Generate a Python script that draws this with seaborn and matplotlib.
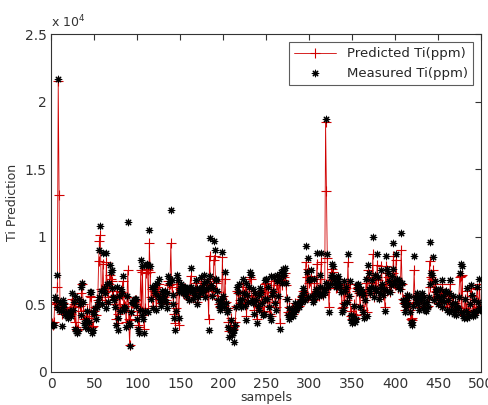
import numpy as np
import pandas as pd
import seaborn as sns
import matplotlib
matplotlib.use("Agg")
import matplotlib.pyplot as plt

# valeurs (ppm), echantillons 1..500
measured = [
    3500, 3450, 3500, 5500, 5300, 4800, 7200, 21700, 4600, 5200,
    4500, 3400, 5300, 4800, 5000, 4200, 4400, 4100, 4000, 4300,
    4200, 4500, 4100, 5800, 4600, 5200, 3200, 5600, 3000, 2900,
    3000, 5400, 5000, 4200, 6300, 6600, 5200, 3600, 3300, 3800,
    3700, 4500, 3200, 3700, 5900, 5900, 2900, 3100, 4400, 4300,
    4700, 3900, 4800, 5200, 9000, 5500, 10800, 6000, 5000, 8800,
    6200, 5800, 4700, 8800, 6500, 5200, 6600, 7900, 7400, 7500,
    6200, 5500, 5300, 4800, 3500, 6300, 3100, 4000, 5600, 4500,
    6100, 5800, 7100, 4600, 4800, 4700, 3300, 5600, 11100, 3600,
    1900, 3500, 4400, 5200, 5100, 5300, 5400, 4900, 5400, 3900,
    3200, 2900, 4600, 8300, 4200, 7800, 3900, 2900, 4500, 7900,
    8000, 7900, 4400, 10500, 7800, 5400, 6300, 4700, 6100, 6400,
    5800, 4600, 6600, 5600, 6900, 5400, 5200, 4900, 6000, 5600,
    5400, 6000, 5200, 4700, 5800, 7100, 6600, 6900, 12000, 6800,
    5700, 5000, 4000, 3100, 4500, 7200, 6800, 4000, 5900, 6200,
    6500, 6100, 5800, 6300, 5900, 6300, 5600, 6100, 6000, 5300,
    6200, 7700, 6300, 5900, 5400, 6000, 5700, 6800, 6200, 5000,
    5500, 6100, 5800, 7000, 6300, 5900, 6600, 7200, 5500, 6100,
    6700, 6200, 3100, 9900, 7100, 6400, 5600, 6200, 9700, 9000,
    6900, 6800, 6000, 5300, 4900, 4600, 5000, 5400, 8900, 5600,
    4800, 7400, 5100, 4400, 4600, 3300, 2600, 3100, 3800, 2700,
    2900, 2200, 3100, 3500, 4800, 6300, 5900, 6500, 5300, 5000,
    4800, 5400, 6900, 5800, 4900, 6600, 3800, 5700, 5200, 6300,
    7400, 7200, 5300, 5100, 6100, 4300, 5800, 5300, 3600, 4900,
    4600, 5700, 6200, 5900, 5100, 4200, 4300, 6800, 5400, 6900,
    5400, 6300, 4800, 4100, 3800, 7100, 5700, 6000, 7000, 5100,
    4600, 6700, 7200, 5600, 6900, 3200, 7400, 6600, 7600, 7100,
    7300, 7700, 6600, 5400, 4200, 4700, 3900, 4100, 4300, 4600,
    4100, 4400, 4700, 5100, 4600, 4900, 5000, 4800, 5200, 5500,
    5200, 5700, 6200, 5900, 5300, 9300, 7400, 5500, 8400, 6800,
    6900, 7500, 5600, 5200, 5400, 6900, 5800, 6100, 8800, 5900,
    5600, 6300, 7200, 8800, 5800, 5700, 6200, 5900, 18700, 6600,
    8700, 6300, 4400, 6500, 7000, 8000, 7200, 7800, 6900, 6600,
    6300, 6400, 6900, 7100, 6600, 6300, 5900, 4400, 4600, 6700,
    5000, 6000, 6300, 5200, 8700, 5600, 6700, 4200, 3800, 3600,
    4100, 4900, 3700, 3900, 6400, 6100, 6500, 5800, 4800, 6100,
    5900, 5700, 4400, 4000, 5300, 6900, 4100, 7900, 7300, 6100,
    5800, 6300, 6800, 10000, 5500, 6200, 7200, 6000, 8700, 7000,
    5400, 5800, 6300, 7500, 6500, 5700, 6100, 4500, 8600, 6000,
    7600, 7300, 6700, 5900, 6400, 7100, 7600, 9500, 6700, 6500,
    8700, 6900, 6300, 6800, 6500, 6100, 10300, 6600, 5300, 5000,
    4400, 4800, 5300, 5700, 5000, 5600, 4400, 3600, 3500, 3700,
    4900, 8600, 5500, 5200, 5800, 5400, 5000, 4600, 5600, 5300,
    5800, 4700, 5100, 5500, 4600, 4500, 5200, 4800, 5500, 9600,
    6500, 7300, 7200, 8500, 5300, 6700, 5900, 6100, 5600, 5000,
    5500, 6100, 5300, 4800, 6800, 5600, 5200, 5900, 6000, 4600,
    5300, 5800, 4400, 6800, 4600, 5000, 5600, 4300, 4600, 5100,
    4200, 4800, 4700, 5500, 7300, 8000, 4400, 7800, 4100, 4000,
    5400, 4500, 4000, 6200, 4300, 4100, 5000, 6400, 5700, 4400,
    4100, 5300, 4200, 4500, 6300, 5200, 4700, 6900, 4600, 4600,
]

predicted = [
    3600, 3500, 3700, 5200, 5000, 5100, 6300, 21500, 13100, 5000,
    4700, 4300, 5100, 4700, 4800, 4500, 4300, 4400, 4200, 4500,
    4400, 4600, 4300, 5400, 4800, 5000, 3700, 5300, 3300, 3100,
    3200, 5100, 4900, 4500, 5800, 6500, 5000, 3900, 3600, 4100,
    4000, 4600, 3500, 4000, 5600, 5500, 3300, 3400, 4500, 4500,
    4800, 4200, 4900, 5300, 8200, 9700, 10100, 6100, 5300, 8000,
    6100, 5900, 5000, 8100, 6300, 5500, 6500, 7200, 6900, 6700,
    6000, 5600, 5400, 5000, 3900, 6000, 3600, 4300, 5500, 4700,
    5900, 5700, 6700, 4800, 5000, 4900, 3700, 5500, 7500, 3900,
    2000, 3800, 4500, 5100, 5100, 5200, 5300, 5000, 5300, 4200,
    3500, 3300, 4700, 7500, 4500, 7400, 4200, 3200, 4700, 7300,
    7600, 7500, 4700, 9500, 7400, 5500, 6100, 4900, 6000, 6200,
    5700, 4900, 6300, 5600, 6500, 5500, 5300, 5100, 5900, 5600,
    5500, 5900, 5300, 5000, 5800, 6700, 6400, 6500, 9500, 6300,
    5700, 5100, 4300, 3600, 4700, 6800, 6500, 3500, 5800, 6100,
    6300, 6000, 5800, 6200, 5900, 6200, 5700, 6000, 5900, 5400,
    6100, 7100, 6200, 5900, 5500, 5900, 5700, 6600, 6100, 5200,
    5600, 6000, 5800, 6700, 6200, 5900, 6400, 6900, 5600, 6000,
    6500, 6100, 3900, 8600, 6900, 6300, 5700, 6100, 8300, 8600,
    6700, 6600, 5900, 5400, 5000, 4800, 5100, 5400, 8500, 5600,
    4900, 6900, 5200, 4600, 4700, 3700, 3000, 3400, 4000, 3100,
    3200, 3400, 3400, 3700, 4900, 6000, 5800, 6300, 5300, 5100,
    4900, 5400, 6600, 5700, 5000, 6300, 4100, 5600, 5200, 6100,
    7000, 6900, 5300, 5200, 6000, 4600, 5700, 5300, 3900, 5000,
    4800, 5600, 6000, 5800, 5200, 4400, 4500, 6500, 5400, 6600,
    5400, 6100, 4900, 4300, 4100, 6700, 5600, 5900, 6700, 5200,
    4800, 6400, 6800, 5600, 6600, 3600, 7000, 6400, 7200, 6800,
    7000, 7300, 6400, 5400, 4400, 4800, 4200, 4300, 4500, 4700,
    4300, 4500, 4800, 5100, 4700, 4900, 5000, 4900, 5200, 5400,
    5300, 5600, 6000, 5800, 5400, 8100, 7000, 5500, 7600, 6600,
    6700, 7100, 5600, 5300, 5400, 6600, 5800, 6000, 8000, 5900,
    5600, 6200, 6900, 8100, 5800, 5700, 6100, 5900, 18500, 13400,
    8400, 6200, 4800, 6400, 6800, 7600, 7000, 7400, 6700, 6500,
    6200, 6300, 6700, 6900, 6500, 6200, 5900, 4700, 4800, 6500,
    5100, 5900, 6200, 5300, 8100, 5600, 6500, 4500, 4100, 3900,
    4300, 5000, 4000, 4200, 6200, 6000, 6300, 5800, 4900, 6000,
    5800, 5700, 4600, 4300, 5300, 6600, 4400, 7500, 7000, 6000,
    5800, 6200, 6600, 8700, 5500, 6100, 6900, 6000, 7900, 6800,
    5500, 5800, 6200, 7800, 6400, 5700, 6000, 4800, 7800, 6000,
    7300, 7000, 6500, 5900, 6300, 6800, 7300, 8600, 6600, 6400,
    8300, 6700, 6200, 6600, 6400, 6100, 9000, 6500, 5400, 5100,
    4600, 4900, 5300, 5600, 5100, 5500, 4600, 3900, 3800, 4000,
    5000, 7500, 5500, 5200, 5700, 5400, 5100, 4800, 5500, 5300,
    5700, 4900, 5200, 5500, 4800, 4700, 5200, 4900, 5500, 8200,
    6300, 7000, 6900, 7500, 5400, 6500, 5900, 6000, 5600, 5100,
    5500, 6000, 5300, 4900, 6500, 5600, 5300, 5800, 5900, 4800,
    5300, 5700, 4600, 6500, 4800, 5100, 5500, 4500, 4800, 5100,
    4400, 4900, 4800, 5500, 7000, 7100, 4600, 7200, 4300, 4200,
    5400, 4700, 4300, 6000, 4500, 4300, 5000, 6200, 5600, 4600,
    4300, 5200, 4400, 4600, 6100, 5200, 4800, 6500, 4700, 4700,
]

samples = np.arange(1, len(measured) + 1)
df = pd.DataFrame({"sample": samples, "measured": measured, "predicted": predicted})

sns.set_style("white")
plt.rcParams["font.family"] = ["DejaVu Sans"]

fig = plt.figure(figsize=(4.89, 4.05), dpi=100)
ax = fig.add_axes([0.105, 0.082, 0.879, 0.834])

sns.lineplot(data=df, x="sample", y="predicted", ax=ax, color="#d00000", linewidth=0.6,
             marker="+", markersize=7, markeredgecolor="#d00000", markeredgewidth=0.8,
             label="Predicted Ti(ppm)")
sns.scatterplot(data=df, x="sample", y="measured", ax=ax, marker=(8, 2, 0), s=22,
                color="black", linewidth=0.8, label="Measured Ti(ppm)", zorder=3)

ax.set_xlim(0, 500)
ax.set_ylim(0, 25000)
ax.set_xticks(range(0, 501, 50))
ax.set_yticks(range(0, 25001, 5000))
ax.set_yticklabels(["0", "0.5", "1", "1.5", "2", "2.5"])
ax.tick_params(direction="in", length=4, top=True, right=True, labelsize=10,
               labelcolor="#333333", color="#333333", width=0.8)
for s in ax.spines.values():
    s.set_color("#333333")
    s.set_linewidth(0.8)

ax.text(0.0, 1.01, "x 10$^{4}$", transform=ax.transAxes, fontsize=9, color="#333333",
        ha="left", va="bottom")
ax.set_xlabel("sampels", fontsize=9, color="#333333", labelpad=0)
ax.set_ylabel("Ti Prediction", fontsize=9, color="#333333", labelpad=4)

leg = ax.legend(loc="upper right", fontsize=9.5, frameon=True, fancybox=False,
                edgecolor="#333333", borderaxespad=0.6, handlelength=3.2)
leg.get_frame().set_linewidth(0.8)

fig.savefig("out.png", dpi=100)
